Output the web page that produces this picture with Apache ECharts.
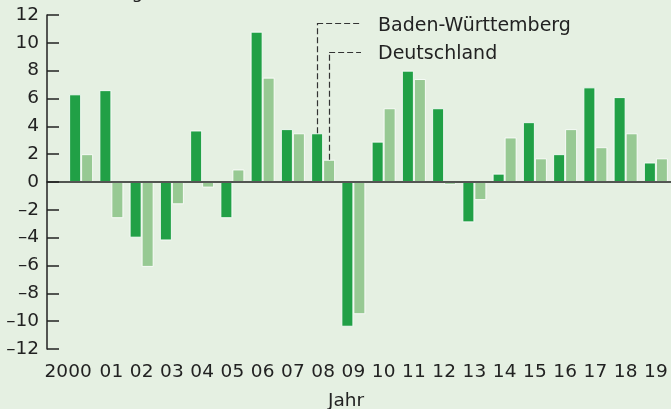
<!DOCTYPE html>
<html>
<head>
<meta charset="utf-8">
<script src="https://cdn.jsdelivr.net/npm/echarts@6/dist/echarts.min.js"></script>
<style>
  html, body { margin: 0; padding: 0; background: #e5f0e2; }
  #chart { width: 671px; height: 409px; }
</style>
</head>
<body>
<div id="chart"></div>
<script>
var years = ['2000', '01', '02', '03', '04', '05', '06', '07', '08', '09',
  '10', '11', '12', '13', '14', '15', '16', '17', '18', '19']
var bwData = [6.3, 6.6, -4.0, -4.2, 3.7, -2.6, 10.8, 3.8, 3.5, -10.4,
  2.9, 8.0, 5.3, -2.9, 0.6, 4.3, 2.0, 6.8, 6.1, 1.4]
var deData = [2.0, -2.6, -6.1, -1.6, -0.4, 0.9, 7.5, 3.5, 1.6, -9.5,
  5.3, 7.4, -0.2, -1.3, 3.2, 1.7, 3.8, 2.5, 3.5, 1.7]
var seriesNames = ['Baden-Württemberg', 'Deutschland']
var yMin = -12
var yMax = 12
var yStep = 2
// leader lines of the labels end at these values
var bwLeaderY = 11.42
var deLeaderY = 9.29

var font = 'DejaVu Sans'
var textColor = '#222'
var darkGreen = '#21a046'
var lightGreen = '#97c993'

var chart = echarts.init(document.getElementById('chart'))

var leaderStyle = {
  color: '#333',
  width: 1.2,
  type: [6, 3]
}

chart.setOption({
  backgroundColor: '#e5f0e2',
  animation: false,
  textStyle: { fontFamily: font },
  title: [{
    text: 'Veränderung in %',
    left: 19,
    top: -21,
    textStyle: { fontFamily: font, fontSize: 18.5, fontWeight: 'normal', color: textColor }
  }, {
    text: 'Jahr',
    left: 323,
    top: 387,
    textStyle: { fontFamily: font, fontSize: 18.5, fontWeight: 'normal', color: textColor }
  }],
  legend: {
    data: seriesNames,
    orient: 'vertical',
    left: 368,
    top: 11,
    icon: 'none',
    itemWidth: 0,
    itemHeight: 14,
    itemGap: 8,
    selectedMode: false,
    textStyle: { fontFamily: font, fontSize: 19, color: textColor, lineHeight: 20 }
  },
  grid: [
    // y axis and zero line
    { left: 47, right: 0, top: 15, bottom: 60 },
    // bars
    { left: 66, right: -3, top: 15, bottom: 60 }
  ],
  xAxis: [{
    gridIndex: 0,
    type: 'category',
    data: [''],
    z: 5,
    axisLine: { show: true, onZero: true, lineStyle: { color: textColor, width: 1.5 } },
    axisTick: { show: false },
    axisLabel: { show: false },
    splitLine: { show: false }
  }, {
    gridIndex: 1,
    type: 'category',
    data: years,
    axisLine: { show: false, onZero: false },
    axisTick: { show: false },
    splitLine: { show: false },
    axisLabel: {
      color: textColor,
      fontFamily: font,
      fontSize: 18.5,
      margin: 14,
      interval: 0,
      formatter: function (v, i) {
        return i === 0 ? '{first|' + v + '}' : v
      },
      rich: {
        first: { fontFamily: font, fontSize: 18.5, color: textColor, padding: [0, 26, 0, 0] }
      }
    }
  }],
  yAxis: [{
    gridIndex: 0,
    type: 'value',
    min: yMin,
    max: yMax,
    interval: yStep,
    axisLine: { show: true, lineStyle: { color: textColor, width: 1.5 } },
    axisTick: { show: true, inside: true, length: 12, lineStyle: { color: textColor, width: 1.5 } },
    splitLine: { show: false },
    axisLabel: {
      color: textColor,
      fontFamily: font,
      fontSize: 18.5,
      margin: 8,
      formatter: function (v) {
        return String(v).replace('-', '\u2013')
      }
    }
  }, {
    gridIndex: 1,
    type: 'value',
    min: yMin,
    max: yMax,
    interval: yStep,
    show: false
  }],
  series: [{
    name: seriesNames[0],
    type: 'bar',
    xAxisIndex: 1,
    yAxisIndex: 1,
    data: bwData,
    barWidth: 12,
    barGap: '0%',
    itemStyle: { color: darkGreen, borderColor: 'rgba(255,255,255,0.85)', borderWidth: 1 },
    markLine: {
      silent: true,
      symbol: 'none',
      label: { show: false },
      lineStyle: leaderStyle,
      data: [
        [{ coord: ['08', bwData[8]] }, { coord: ['08', bwLeaderY] }],
        [{ coord: ['08', bwLeaderY] }, { x: 361, y: 23 }]
      ]
    }
  }, {
    name: seriesNames[1],
    type: 'bar',
    xAxisIndex: 1,
    yAxisIndex: 1,
    data: deData,
    barWidth: 12,
    barGap: '0%',
    itemStyle: { color: lightGreen, borderColor: 'rgba(255,255,255,0.85)', borderWidth: 1 },
    markLine: {
      silent: true,
      symbol: 'none',
      label: { show: false },
      lineStyle: leaderStyle,
      data: [
        [{ coord: ['08', deData[8]] }, { coord: ['08', deLeaderY] }],
        [{ coord: ['08', deLeaderY] }, { x: 361, y: 52.7 }]
      ]
    }
  }]
})
</script>
</body>
</html>
